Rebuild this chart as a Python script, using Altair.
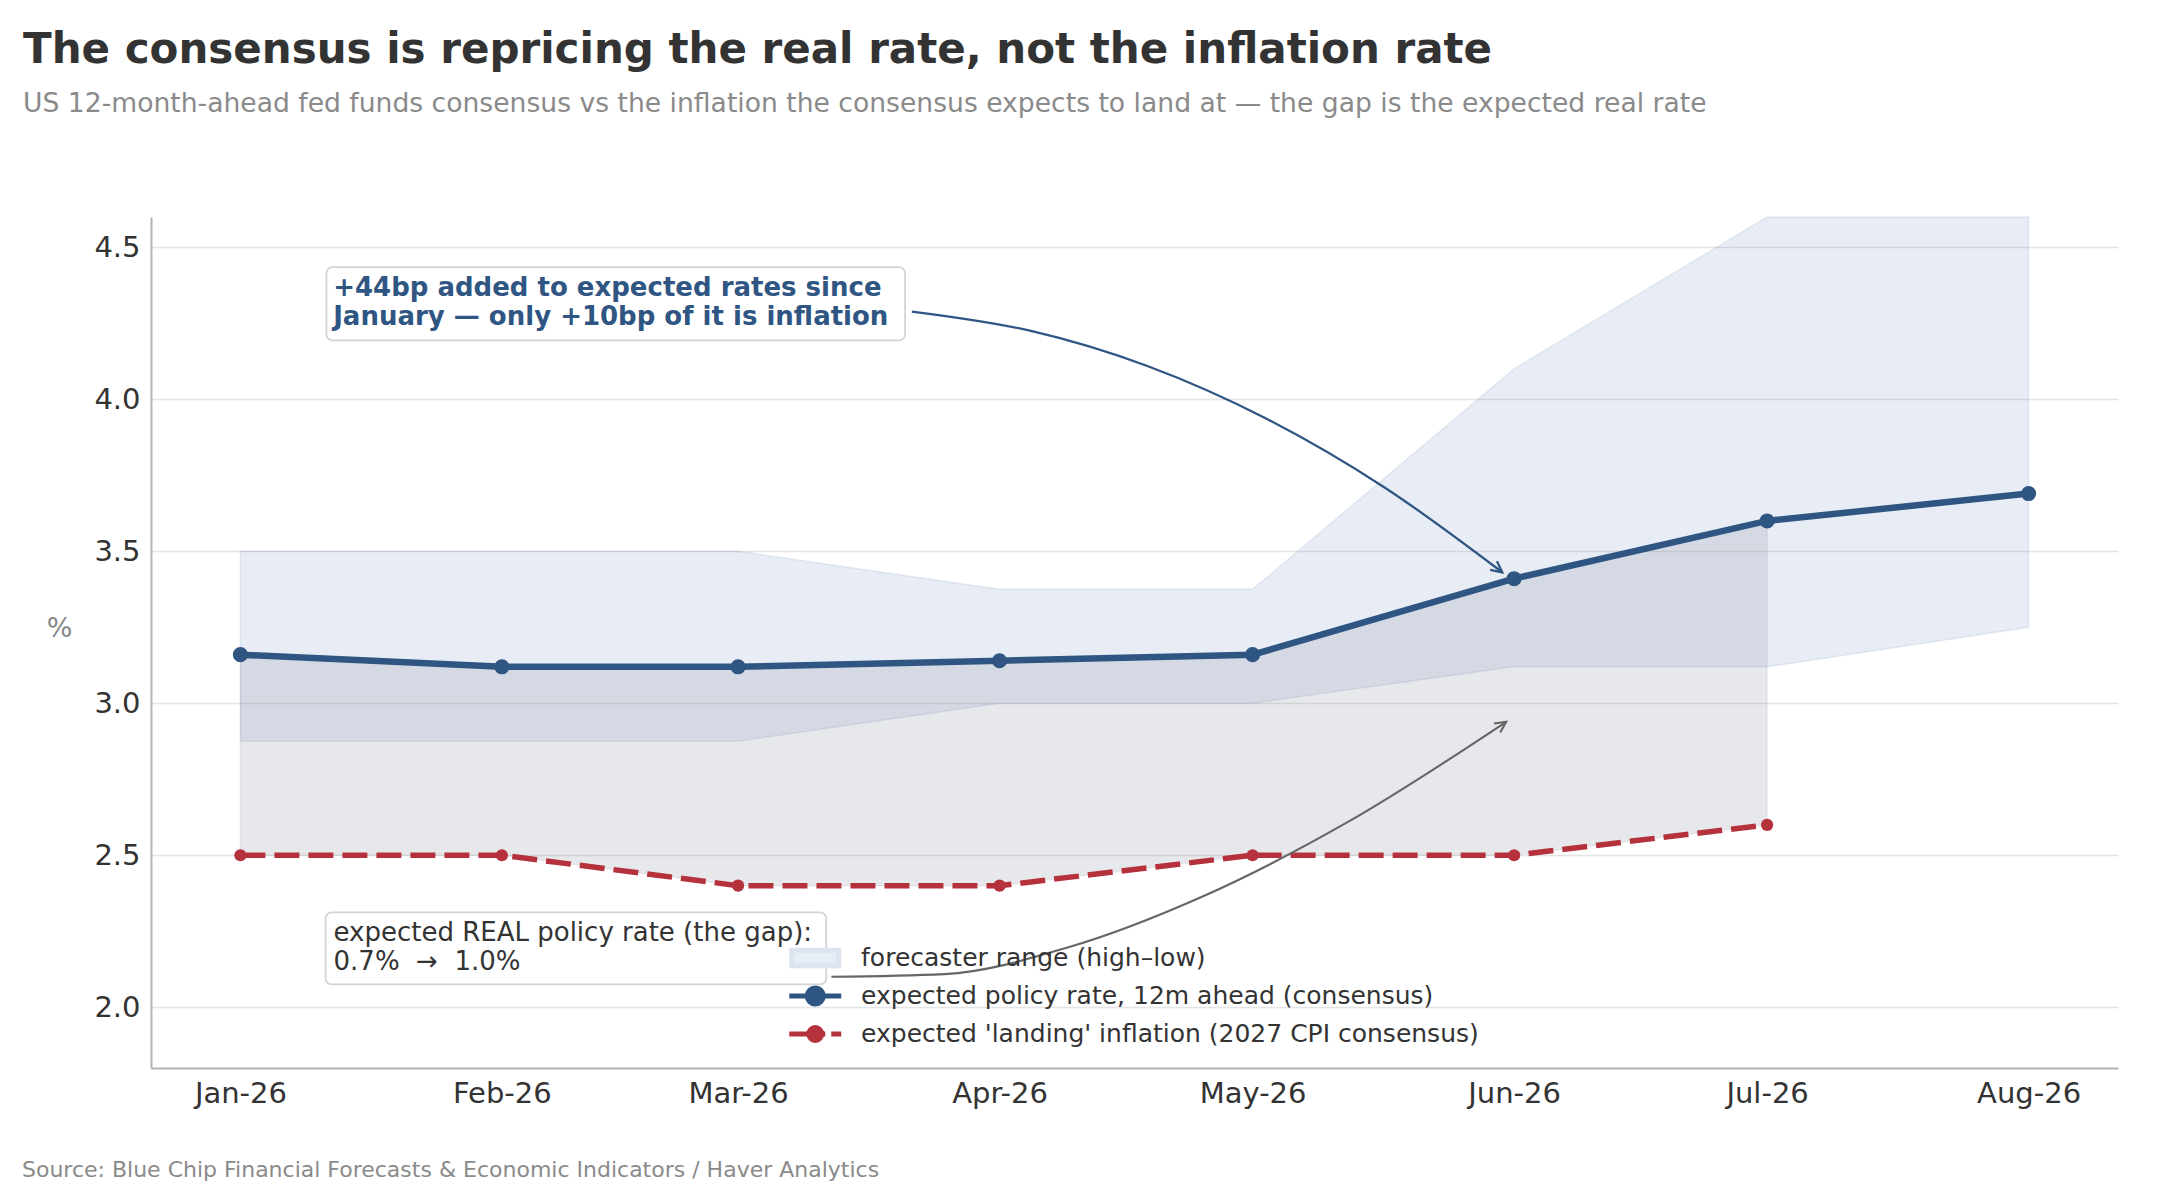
import altair as alt
import pandas as pd

# ---------------- data ----------------
months = ["2026-01-01", "2026-02-01", "2026-03-01", "2026-04-01",
          "2026-05-01", "2026-06-01", "2026-07-01", "2026-08-01"]
policy_rate = [3.16, 3.12, 3.12, 3.14, 3.16, 3.41, 3.60, 3.69]
landing_inflation = [2.50, 2.50, 2.40, 2.40, 2.50, 2.50, 2.60, None]
range_low = [2.875, 2.875, 2.875, 3.00, 3.00, 3.12, 3.12, 3.25]
range_high = [3.50, 3.50, 3.50, 3.375, 3.375, 4.10, 4.60, 4.60]

y_ticks = [2.0, 2.5, 3.0, 3.5, 4.0, 4.5]
legend_labels = [
    "forecaster range (high\u2013low)",
    "expected policy rate, 12m ahead (consensus)",
    "expected 'landing' inflation (2027 CPI consensus)",
]

title_text = "The consensus is repricing the real rate, not the inflation rate"
subtitle_text = ("US 12-month-ahead fed funds consensus vs the inflation the consensus "
                 "expects to land at \u2014 the gap is the expected real rate")
source_text = "Source: Blue Chip Financial Forecasts & Economic Indicators / Haver Analytics"
note_rates_lines = ["+44bp added to expected rates since",
                    "January \u2014 only +10bp of it is inflation"]
note_gap_lines = ["expected REAL policy rate (the gap):",
                  "0.7%\u00a0 \u2192\u00a0 1.0%"]

# ---------------- annotation anchors (days after 1 Jan 2026, value) ----------------
note_rates_box = (10.2, 78.8, 4.435, 4.194)
note_rates_text = (11.0, [4.367, 4.271])
note_gap_box = (10.1, 69.45, 2.312, 2.075)
note_gap_text = (11.04, [2.244, 2.149])
arrow_rates_pts = [(79.6, 4.289), (93.6, 4.226), (107.6, 4.109), (121.6, 3.937),
                   (135.6, 3.711), (149.6, 3.431)]
arrow_gap_pts = [(70.07, 2.100), (83.45, 2.109), (98.15, 2.197), (114.14, 2.365),
                 (131.46, 2.612), (150.07, 2.939)]

# ---------------- styles ----------------
BLUE = "#2f5583"
RED = "#b5323c"
BAND = "#4a72b0"
GAP = "#7f8796"
FONT = "DejaVu Sans"


def at_day(d):
    return (pd.Timestamp("2026-01-01") + pd.Timedelta(days=d)).strftime("%Y-%m-%dT%H:%M:%SZ")


df = pd.DataFrame({
    "date": months,
    "policy": policy_rate,
    "inflation": landing_inflation,
    "low": range_low,
    "high": range_high,
})

x_scale = alt.Scale(
    type="utc",
    domain=[alt.DateTime(year=2025, month=12, date=21, hours=9, minutes=36, utc=True),
            alt.DateTime(year=2026, month=8, date=11, hours=14, minutes=24, utc=True)],
)
x_axis = alt.Axis(
    values=[alt.DateTime(year=2026, month=m, date=1, utc=True) for m in range(1, 9)],
    format="%b-%y", grid=False, ticks=False, tickSize=0, labelPadding=11,
    labelFontSize=29, labelColor="#333333", labelFont=FONT,
    domainColor="#b3b3b3", domainWidth=2,
)
y_scale = alt.Scale(domain=[1.8, 4.6], nice=False, zero=False)
y_axis = alt.Axis(
    values=y_ticks, format=".1f", grid=True, gridColor="#e4e4e4", gridWidth=1.6,
    ticks=False, tickSize=0, labelPadding=11, labelFontSize=29, labelColor="#333333",
    labelFont=FONT, domainColor="#b3b3b3", domainWidth=2,
    titleAngle=0, titleX=-92, titleY=411, titleAlign="center", titleBaseline="middle",
    titleColor="#888888", titleFontSize=27, titleFontWeight="normal", titleFont=FONT,
)


def X(field):
    return alt.X(f"{field}:T", scale=x_scale, axis=x_axis, title=None)


def Y(field):
    return alt.Y(f"{field}:Q", scale=y_scale, axis=y_axis, title="%")


# forecaster range band
band = alt.Chart(df).mark_area(
    fill=BAND, fillOpacity=0.125, stroke=BAND, strokeOpacity=0.12, strokeWidth=1.5
).encode(x=X("date"), y=Y("low"), y2="high")

# gap between policy rate and landing inflation
gap = alt.Chart(df).transform_filter("isValid(datum.inflation)").mark_area(
    fill=GAP, fillOpacity=0.19, stroke=GAP, strokeOpacity=0.12, strokeWidth=1.5
).encode(x=X("date"), y=Y("inflation"), y2="policy")

policy_line = alt.Chart(df).mark_line(
    color=BLUE, strokeWidth=6.5,
    point=alt.OverlayMarkDef(filled=True, size=227, color=BLUE, opacity=1),
).encode(x=X("date"), y=Y("policy"))

infl_line = alt.Chart(df).transform_filter("isValid(datum.inflation)").mark_line(
    color=RED, strokeWidth=5.5, strokeDash=[25, 9],
    point=alt.OverlayMarkDef(filled=True, size=150, color=RED, opacity=1),
).encode(x=X("date"), y=Y("inflation"))

# ---------------- annotations ----------------
boxes_df = pd.DataFrame({
    "x": [at_day(note_rates_box[0]), at_day(note_gap_box[0])],
    "x2": [at_day(note_rates_box[1]), at_day(note_gap_box[1])],
    "y": [note_rates_box[2], note_gap_box[2]],
    "y2": [note_rates_box[3], note_gap_box[3]],
})
boxes = alt.Chart(boxes_df).mark_rect(
    fill="white", fillOpacity=0.92, stroke="#d4d4d4", strokeWidth=1.8, cornerRadius=6
).encode(x=X("x"), x2="x2", y=Y("y"), y2="y2")

rates_txt_df = pd.DataFrame({
    "x": [at_day(note_rates_text[0])] * 2,
    "y": note_rates_text[1],
    "t": note_rates_lines,
})
rates_txt = alt.Chart(rates_txt_df).mark_text(
    align="left", baseline="middle", font=FONT, fontSize=26, fontWeight="bold", color=BLUE
).encode(x=X("x"), y=Y("y"), text="t:N")

gap_txt_df = pd.DataFrame({
    "x": [at_day(note_gap_text[0])] * 2,
    "y": note_gap_text[1],
    "t": note_gap_lines,
})
gap_txt = alt.Chart(gap_txt_df).mark_text(
    align="left", baseline="middle", font=FONT, fontSize=26, color="#333333"
).encode(x=X("x"), y=Y("y"), text="t:N")

arrow_rates_df = pd.DataFrame({
    "x": [at_day(d) for d, _ in arrow_rates_pts],
    "y": [v for _, v in arrow_rates_pts],
})
arrow_gap_df = pd.DataFrame({
    "x": [at_day(d) for d, _ in arrow_gap_pts],
    "y": [v for _, v in arrow_gap_pts],
})
arrow_rates = alt.Chart(arrow_rates_df).mark_line(
    color=BLUE, strokeWidth=2.3, interpolate="monotone"
).encode(x=X("x"), y=Y("y"))
arrow_gap = alt.Chart(arrow_gap_df).mark_line(
    color="#666666", strokeWidth=2.1, interpolate="monotone"
).encode(x=X("x"), y=Y("y"))

HEAD = "M-1,-0.5L0,0L-1,0.5"
head_rates = alt.Chart(arrow_rates_df.tail(1)).mark_point(
    shape=HEAD, filled=False, size=484, angle=38, color=BLUE, strokeWidth=2.3, opacity=1
).encode(x=X("x"), y=Y("y"))
head_gap = alt.Chart(arrow_gap_df.tail(1)).mark_point(
    shape=HEAD, filled=False, size=484, angle=326, color="#666666", strokeWidth=2.1, opacity=1
).encode(x=X("x"), y=Y("y"))

# ---------------- legend (symbols only, driven by explicit scale domains) ----------------
legend_shapes = [
    "M-1.403,-0.459L1.403,-0.459L1.403,0.459L-1.403,0.459Z",
    "M-1.552,0L1.552,0M0.478,0A0.478,0.478 0 1 1 -0.478,0A0.478,0.478 0 1 1 0.478,0Z",
    "M-1.552,0L-0.358,0M-0.119,0L0.597,0M0.956,0L1.552,0"
    "M0.388,0A0.388,0.388 0 1 1 -0.388,0A0.388,0.388 0 1 1 0.388,0Z",
]
legend_fills = ["#e7edf5", BLUE, RED]
legend_strokes = ["#dce4ef", BLUE, RED]
leg = alt.Legend(
    title=None, orient="none", legendX=644.75, legendY=721.5, padding=0,
    symbolSize=1122, symbolStrokeWidth=5, symbolOpacity=1,
    labelFont=FONT, labelFontSize=25, labelColor="#333333", labelOffset=26.3,
    labelLimit=1200, rowPadding=0,
)
legend_layer = alt.Chart(pd.DataFrame({"series": legend_labels})).transform_filter(
    "false"
).mark_point(filled=True, size=1122, opacity=1).encode(
    shape=alt.Shape("series:N", scale=alt.Scale(domain=legend_labels, range=legend_shapes), legend=leg),
    fill=alt.Fill("series:N", scale=alt.Scale(domain=legend_labels, range=legend_fills), legend=leg),
    stroke=alt.Stroke("series:N", scale=alt.Scale(domain=legend_labels, range=legend_strokes), legend=leg),
)

# ---------------- title / subtitle / source ----------------
title_mark = alt.Chart(pd.DataFrame({"t": [title_text]})).mark_text(
    align="left", baseline="alphabetic", font=FONT, fontSize=42, fontWeight="bold", color="#333333"
).encode(x=alt.value(-128), y=alt.value(-153.7), text="t:N")
subtitle_mark = alt.Chart(pd.DataFrame({"t": [subtitle_text]})).mark_text(
    align="left", baseline="alphabetic", font=FONT, fontSize=26.6, color="#8a8a8a"
).encode(x=alt.value(-128), y=alt.value(-105.3), text="t:N")
source_mark = alt.Chart(pd.DataFrame({"t": [source_text]})).mark_text(
    align="left", baseline="alphabetic", font=FONT, fontSize=22, color="#8a8a8a"
).encode(x=alt.value(-129), y=alt.value(959.7), text="t:N")

chart = alt.layer(
    band, gap, policy_line, infl_line,
    arrow_rates, head_rates, arrow_gap, head_gap,
    boxes, rates_txt, gap_txt,
    legend_layer, title_mark, subtitle_mark, source_mark,
).properties(
    width=1967, height=851,
    padding={"left": 143, "top": 209, "right": 20, "bottom": 115},
    autosize=alt.AutoSizeParams(type="none"),
).configure(font=FONT).configure_view(stroke=None, strokeWidth=0)

chart.save("out.html", embed_options={"renderer": "svg", "actions": False})
